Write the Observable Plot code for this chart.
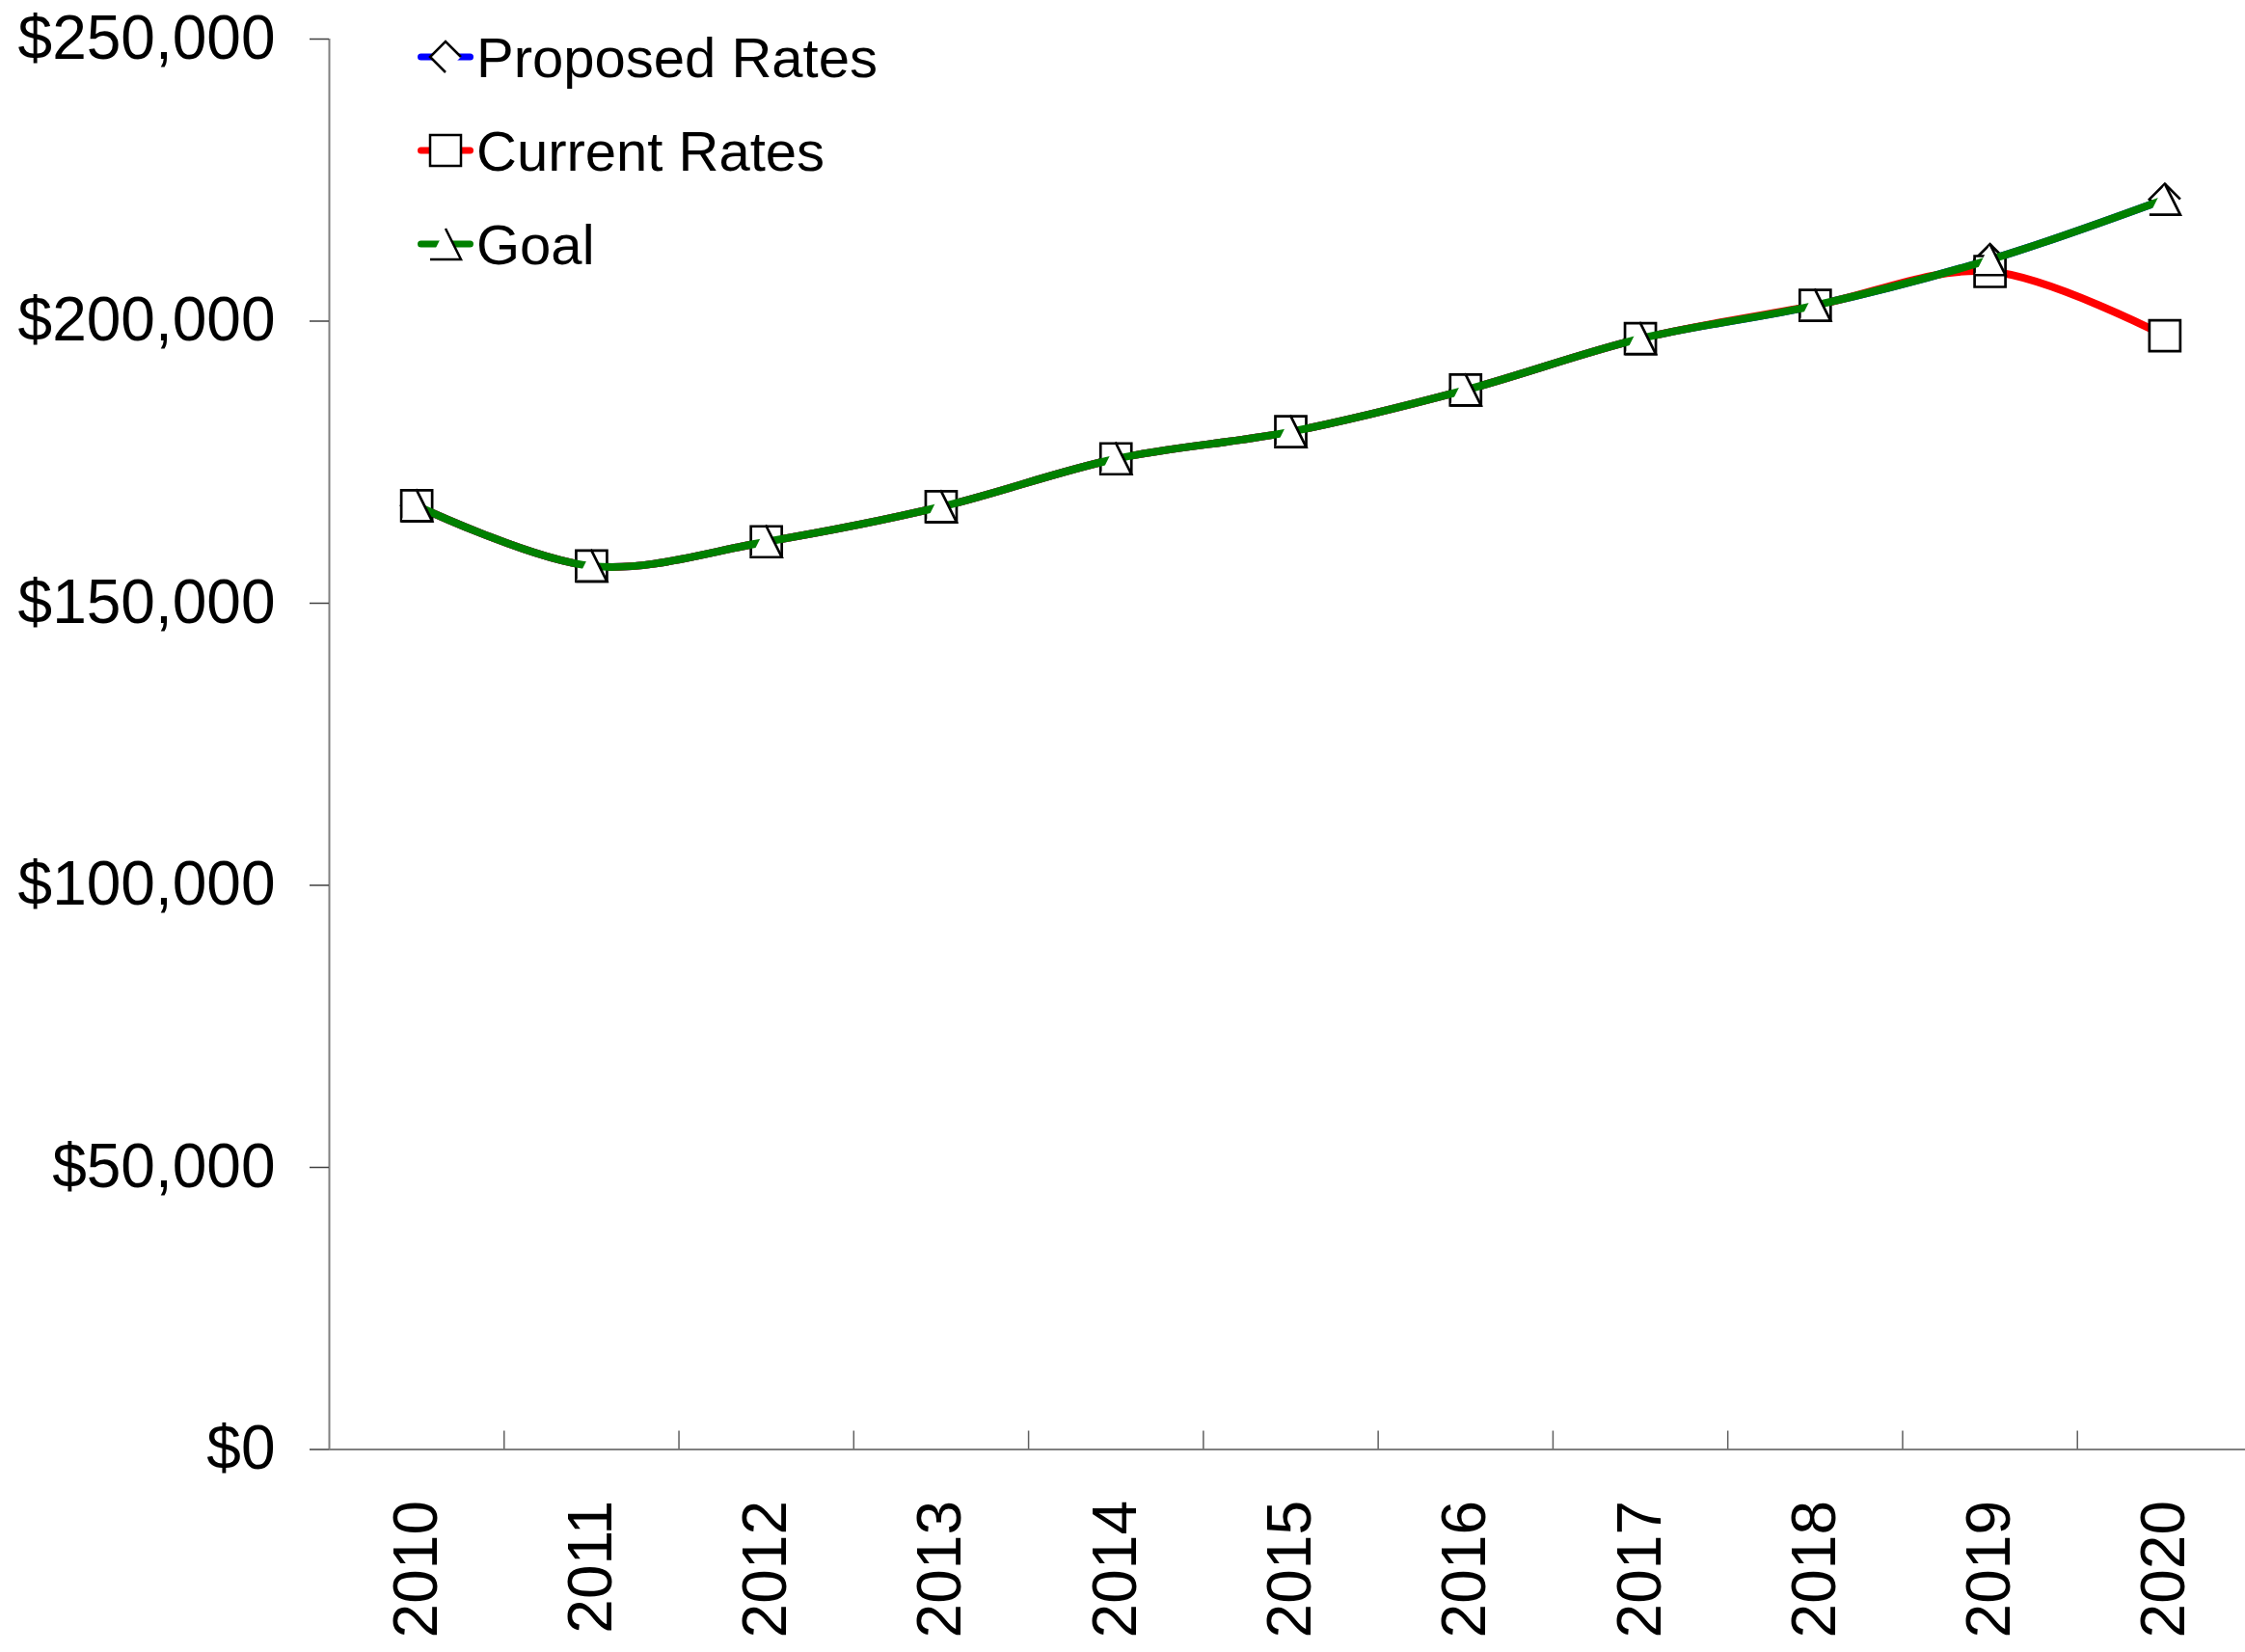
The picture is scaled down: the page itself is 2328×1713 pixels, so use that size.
<!DOCTYPE html>
<html>
<head>
<meta charset="utf-8">
<script src="https://cdn.jsdelivr.net/npm/d3@7"></script>
<script src="https://cdn.jsdelivr.net/npm/@observablehq/plot@0.6"></script>
<style>
  body { margin: 0; background: #fff; }
  #wrap { position: relative; width: 2328px; height: 1713px; font-family: "Liberation Sans", Arial, sans-serif; }
  #legend { position: absolute; left: 433px; top: 0; }
  .row { position: absolute; left: 0; display: flex; align-items: center; height: 80px; white-space: nowrap; font-size: 58px; color: #000; }
  .row svg { display: block; }
</style>
</head>
<body>
<div id="wrap">
  <div id="chart"></div>
  <div id="legend"></div>
</div>
<script>
// Annual totals, 2010–2020
const years = [2010, 2011, 2012, 2013, 2014, 2015, 2016, 2017, 2018, 2019, 2020];
const proposedRates = [167300, 156600, 160900, 167100, 175600, 180400, 187800, 196900, 202800, 210900, 221600];
const currentRates  = [167300, 156600, 160900, 167100, 175600, 180400, 187800, 196900, 202800, 208800, 197400];
const goal          = [167300, 156600, 160900, 167100, 175600, 180400, 187800, 196900, 202800, 210900, 221600];

const seriesNames  = ["Proposed Rates", "Current Rates", "Goal"];
const seriesColors = ["#0000ff", "#ff0000", "#008000"];
const yTicks = [0, 50000, 100000, 150000, 200000, 250000];

// Marker shapes. The open paths leave one edge unstroked while the fill still closes.
const diamondMark = {draw(ctx, size) { const r = Math.sqrt(size / Math.PI);
  ctx.moveTo(r, 0); ctx.lineTo(0, -r); ctx.lineTo(-r, 0); ctx.lineTo(0, r); }};
const squareMark = {draw(ctx, size) { const r = Math.sqrt(size / Math.PI);
  ctx.moveTo(-r, -r); ctx.lineTo(r, -r); ctx.lineTo(r, r); ctx.lineTo(-r, r); ctx.closePath(); }};
const triangleMark = {draw(ctx, size) { const r = Math.sqrt(size / Math.PI);
  ctx.moveTo(-r, r); ctx.lineTo(r, r); ctx.lineTo(0, -r); }};
const seriesMarks = [diamondMark, squareMark, triangleMark];

const seriesValues = [proposedRates, currentRates, goal];
const rows = seriesNames.map((name, s) => years.map((year, i) => ({series: name, year, value: seriesValues[s][i]})));

const xDomain = [years[0] - 0.5, years[years.length - 1] + 0.5];
const boundaries = years.slice(0, -1).map(y => y + 0.5);
const R = 16;

const layers = [];
rows.forEach((data, s) => {
  layers.push(Plot.line(data, {x: "year", y: "value", stroke: seriesColors[s], strokeWidth: 8,
    curve: "catmull-rom", strokeLinecap: "butt", strokeLinejoin: "round"}));
  layers.push(Plot.dot(data, {x: "year", y: "value", r: R, symbol: seriesMarks[s],
    fill: "white", stroke: "black", strokeWidth: 2.7}));
});

const chart = Plot.plot({
  width: 2328,
  height: 1713,
  marginTop: 40,
  marginBottom: 210.5,
  marginLeft: 341,
  marginRight: 0,
  style: {fontFamily: '"Liberation Sans", Arial, sans-serif', color: "#000", background: "#fff"},
  x: {type: "linear", domain: xDomain, range: [341, 2335]},
  y: {domain: [0, 250000], range: [1502.5, 40]},
  marks: [
    Plot.ruleY([0], {stroke: "#808080", strokeWidth: 2}),
    Plot.ruleX([xDomain[0]], {stroke: "#808080", strokeWidth: 2}),
    Plot.axisY({ticks: yTicks, tickSize: 20, tickPadding: 36, tickFormat: d3.format("$,.0f"),
      fontSize: 64, stroke: "#404040", strokeWidth: 1.5, label: null}),
    Plot.axisX({ticks: boundaries, tickSize: -19, tickFormat: () => "", stroke: "#606060", strokeWidth: 1.5, label: null}),
    Plot.axisX({ticks: years, tickSize: 0, tickPadding: 53, tickRotate: -90, tickFormat: d => String(d),
      fontSize: 64, label: null}),
    ...layers
  ]
});
document.getElementById("chart").appendChild(chart);

// Legend: line swatch with its marker, then the series name
const legend = d3.select("#legend");
const rowCenters = [59, 156, 253];
seriesNames.forEach((name, s) => {
  const row = legend.append("div").attr("class", "row").style("top", (rowCenters[s] - 40) + "px");
  const svg = row.append("svg").attr("width", 61).attr("height", 80);
  svg.append("line").attr("x1", 3.5).attr("x2", 54.5).attr("y1", 40).attr("y2", 40)
    .attr("stroke", seriesColors[s]).attr("stroke-width", 7).attr("stroke-linecap", "round");
  const p = d3.path();
  seriesMarks[s].draw(p, R * R * Math.PI);
  svg.append("path").attr("d", p.toString()).attr("transform", "translate(29,40)")
    .attr("fill", "white").attr("stroke", "black").attr("stroke-width", 2.5);
  row.append("span").text(name);
});
</script>
</body>
</html>
